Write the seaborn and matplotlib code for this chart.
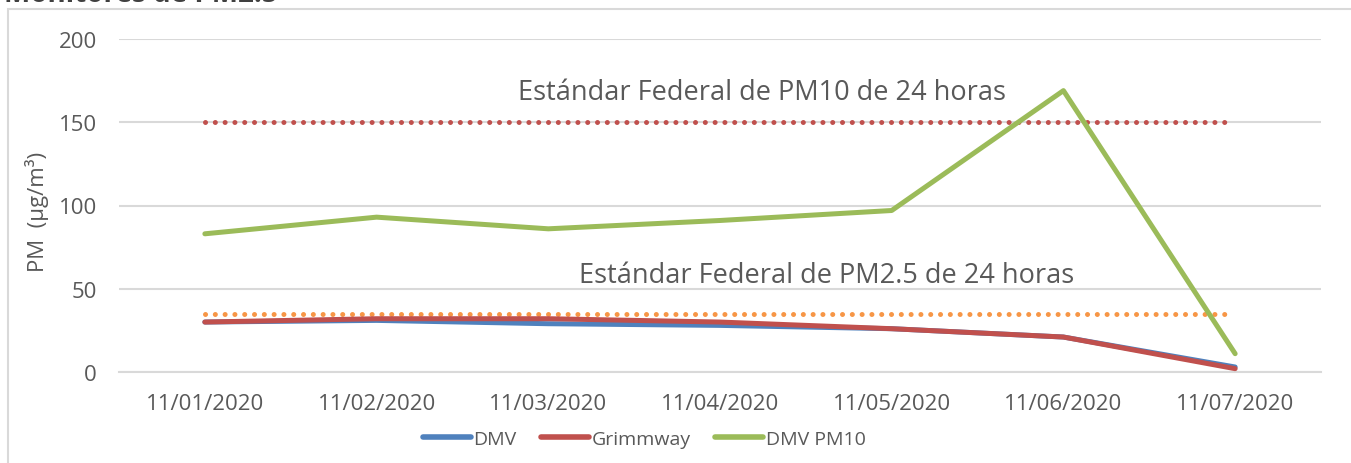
import numpy as np
import pandas as pd
import matplotlib
matplotlib.use("Agg")
import matplotlib.pyplot as plt
import seaborn as sns
from matplotlib.patches import Rectangle

# Data
fechas = ["11/01/2020", "11/02/2020", "11/03/2020", "11/04/2020",
          "11/05/2020", "11/06/2020", "11/07/2020"]
dmv = [30, 31, 29, 28, 26, 21, 3]
grimmway = [30, 32, 32, 30, 26, 21, 2]
dmv_pm10 = [83, 93, 86, 91, 97, 169, 11]
std_pm10 = 150
std_pm25 = 35

series = ["DMV", "Grimmway", "DMV PM10"]
colors = {"DMV": "#4F81BD", "Grimmway": "#C0504D", "DMV PM10": "#9BBB59"}

df = pd.DataFrame({
    "pos": list(range(len(fechas))) * 3,
    "PM": dmv + grimmway + dmv_pm10,
    "serie": ["DMV"] * 7 + ["Grimmway"] * 7 + ["DMV PM10"] * 7,
})

sns.set_style("white")
plt.rcParams["font.family"] = ["Open Sans", "DejaVu Sans"]

fig = plt.figure(figsize=(13.51, 4.64), dpi=100)
W, H = 1351, 464
ax = fig.add_axes([119 / W, 1 - 373 / H, (1321 - 119) / W, (373 - 40) / H])

grid_c = "#D9D9D9"
text_c = "#595959"

# Standards (dotted)
ax.hlines(std_pm10, 0, 5.94, colors="#C0504D", linestyles=(0, (0.01, 1.95)),
          linewidth=3.6, capstyle="round", zorder=2)
ax.hlines(std_pm25, 0, 5.94, colors="#F79646", linestyles=(0, (0.01, 1.95)),
          linewidth=3.6, capstyle="round", zorder=2)

sns.lineplot(data=df, x="pos", y="PM", hue="serie", hue_order=series,
             palette=colors, linewidth=3.6, sort=False, ax=ax, zorder=3,
             legend=False)
for ln in ax.get_lines():
    ln.set_solid_capstyle("round")

ax.text(3.245, 168, "Estándar Federal de PM10 de 24 horas", ha="center",
        va="center", fontsize=19.5, color=text_c)
ax.text(3.62, 58, "Estándar Federal de PM2.5 de 24 horas", ha="center",
        va="center", fontsize=19.5, color=text_c)

ax.set_xlim(-0.5, 6.5)
ax.set_ylim(0, 200)
ax.set_yticks([0, 50, 100, 150, 200])
ax.yaxis.grid(True, color=grid_c, linewidth=1.5)
ax.set_axisbelow(True)
ax.set_xticks(range(len(fechas)))
ax.set_xticklabels(fechas)
ax.set_xticks(np.arange(-0.5, 7, 1), minor=True)
ax.tick_params(axis="x", which="major", length=0, pad=15, labelsize=16,
               labelcolor=text_c)
ax.tick_params(axis="x", which="minor", length=6, width=1.5, color=grid_c)
ax.tick_params(axis="y", length=0, pad=16, labelsize=16, labelcolor=text_c)
for s in ["top", "right", "left"]:
    ax.spines[s].set_visible(False)
ax.spines["bottom"].set_color(grid_c)
ax.spines["bottom"].set_linewidth(1.5)
ax.set_xlabel("")
ax.set_ylabel("")
fig.text(37 / W, 1 - 212 / H, "PM  (µg/m³)", rotation=90, ha="center",
         va="center", fontsize=16, color=text_c)

# Legend
handles = [plt.Line2D([0], [0], color=colors[s], linewidth=4,
                      solid_capstyle="round") for s in series]
fig.legend(handles, series, loc="center", bbox_to_anchor=(644 / W, 1 - 440 / H),
           ncol=3, frameon=False, fontsize=14, handlelength=2.47,
           handletextpad=0.15, columnspacing=1.23, labelcolor=text_c)

# Outer chart border and cropped title
fig.patches.append(Rectangle((8 / W, -0.1), 1.2, 1 - 10 / H + 0.1,
                             transform=fig.transFigure, fill=False,
                             edgecolor=grid_c, linewidth=1.5))
fig.text(4 / W, 1 - 2 / H, "Monitores de PM2.5", fontsize=20,
         fontweight="bold", color="#404040", va="baseline", ha="left")

fig.savefig("out.png", dpi=100)
